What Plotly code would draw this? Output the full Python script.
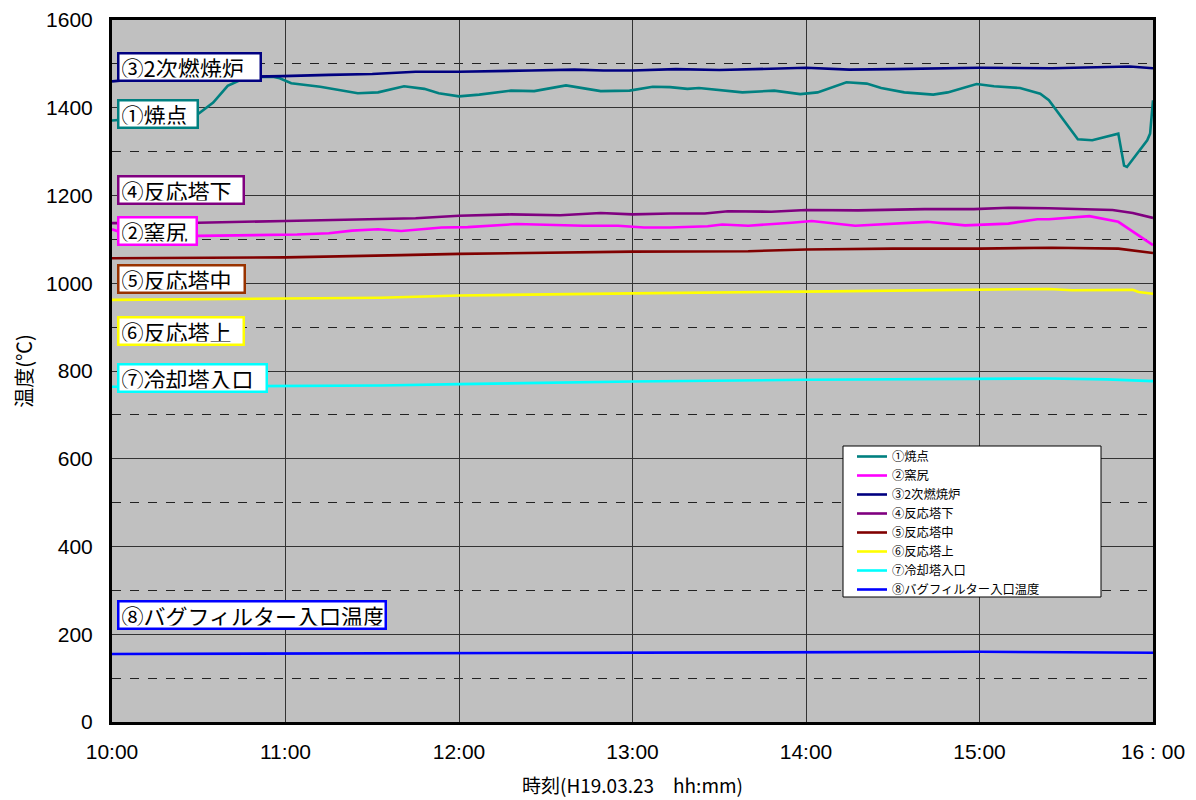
import plotly.graph_objects as go

DATE = "2007-03-23"

series_names = ["①焼点", "②窯尻", "③2次燃焼炉", "④反応塔下", "⑤反応塔中",
                "⑥反応塔上", "⑦冷却塔入口", "⑧バグフィルター入口温度"]
line_colors = ["#008080", "#FF00FF", "#000080", "#800080", "#800000",
               "#FFFF00", "#00FFFF", "#0000FF"]
label_border_colors = ["#008080", "#FF00FF", "#000080", "#800080", "#993300",
                       "#FFFF00", "#00FFFF", "#0000FF"]

# ① 焼点
t1 = ["10:00", "10:10", "10:20", "10:30", "10:35", "10:40", "10:44", "10:52", "10:56", "10:58",
      "11:02", "11:12", "11:25", "11:32", "11:41", "11:48", "11:53", "12:00", "12:07", "12:18",
      "12:26", "12:37", "12:49", "12:59", "13:07", "13:13", "13:19", "13:23", "13:38", "13:49",
      "13:58", "14:04", "14:14", "14:21", "14:26", "14:34", "14:44", "14:49", "14:59", "15:05",
      "15:14", "15:21", "15:24", "15:34", "15:39", "15:46", "15:48", "15:50", "15:51", "15:58",
      "15:59", "16:00"]
v1 = [1371, 1376, 1381, 1387, 1412, 1450, 1462, 1471, 1470, 1467,
      1456, 1448, 1433, 1435, 1449, 1443, 1433, 1426, 1430, 1439,
      1438, 1451, 1438, 1439, 1448, 1447, 1443, 1445, 1435, 1439,
      1431, 1435, 1458, 1455, 1445, 1435, 1430, 1435, 1454, 1449,
      1445, 1432, 1417, 1328, 1326, 1339, 1341, 1268, 1265, 1326,
      1341, 1417]

# ② 窯尻
t2 = ["10:00", "10:05", "10:30", "10:54", "11:04", "11:15", "11:23", "11:32", "11:40", "11:54",
      "12:03", "12:20", "12:33", "12:43", "12:55", "13:04", "13:13", "13:26", "13:31", "13:40",
      "13:55", "14:02", "14:17", "14:42", "14:55", "15:10", "15:20", "15:24", "15:38", "15:48",
      "16:00"]
v2 = [1123, 1112, 1108, 1110, 1111, 1114, 1120, 1123, 1119, 1127,
      1128, 1135, 1132, 1131, 1131, 1127, 1127, 1130, 1134, 1131,
      1138, 1142, 1131, 1140, 1132, 1136, 1146, 1146, 1153, 1140,
      1087]

# ③ 2次燃焼炉
t3 = ["10:00", "10:10", "10:30", "10:52", "10:59", "11:15", "11:30", "11:45", "12:00", "12:25",
      "12:40", "12:50", "13:00", "13:15", "13:30", "14:00", "14:15", "14:30", "15:00", "15:25",
      "15:45", "15:52", "16:00"]
v3 = [1460, 1466, 1469, 1471, 1472, 1475, 1477, 1482, 1482, 1485,
      1487, 1485, 1485, 1488, 1486, 1491, 1487, 1488, 1491, 1490,
      1494, 1494, 1490]

# ④ 反応塔下
t4 = ["10:00", "10:30", "11:00", "11:30", "11:45", "12:00", "12:18", "12:35", "12:49", "13:00",
      "13:13", "13:25", "13:33", "13:48", "14:00", "14:18", "14:41", "14:58", "15:10", "15:24",
      "15:30", "15:46", "15:53", "16:00"]
v4 = [1137, 1138, 1142, 1146, 1148, 1154, 1157, 1155, 1160, 1157,
      1159, 1159, 1164, 1163, 1167, 1166, 1169, 1169, 1172, 1171,
      1170, 1167, 1160, 1149]

# ⑤ 反応塔中
t5 = ["10:00", "11:00", "11:40", "12:00", "13:00", "13:40", "14:00", "14:30", "15:00", "15:25",
      "15:48", "16:00"]
v5 = [1057, 1059, 1064, 1067, 1072, 1073, 1077, 1079, 1079, 1081, 1079, 1069]

# ⑥ 反応塔上
t6 = ["10:00", "11:00", "11:33", "12:00", "12:42", "13:00", "14:00", "14:43", "15:00", "15:24",
      "15:32", "15:53", "15:55", "16:00"]
v6 = [962, 965, 967, 972, 976, 977, 981, 984, 984, 987, 984, 985, 980, 976]

# ⑦ 冷却塔入口
t7 = ["10:00", "11:00", "11:33", "12:00", "13:00", "14:00", "15:00", "15:24", "15:44", "16:00"]
v7 = [764, 765, 767, 770, 776, 780, 783, 783, 781, 777]

# ⑧ バグフィルター入口温度
t8 = ["10:00", "11:00", "11:40", "12:00", "13:00", "14:00", "15:00", "15:30", "16:00"]
v8 = [155, 156, 157, 157, 158, 160, 160, 159, 158]

times = [t1, t2, t3, t4, t5, t6, t7, t8]
values = [v1, v2, v3, v4, v5, v6, v7, v8]

hour_ticks = ["10:00", "11:00", "12:00", "13:00", "14:00", "15:00", "16:00"]
hour_text = ["10:00", "11:00", "12:00", "13:00", "14:00", "15:00", "16 : 00"]

# label boxes at left: (series index, y centre in °C, box width px)
label_order = [2, 0, 3, 1, 4, 5, 6, 7]
label_y = [1494, 1386, 1212, 1120, 1009, 892, 784, 244]
label_w = [145, 82, 128, 81, 129, 128, 151, 270]
label_h = 30

CJK = "Noto Sans CJK JP"
SANS = "Liberation Sans, Arial"

fig = go.Figure()
for name, col, t, v in zip(series_names, line_colors, times, values):
    fig.add_trace(go.Scatter(
        x=[f"{DATE} {s}" for s in t], y=v, mode="lines", name=name,
        line=dict(color=col, width=2.6),
    ))

# the page body adds an 8px offset; positions below are in page pixels
OFF = 8
W, H = 1196 - OFF, 800 - OFF
ml, mr, mt, mb = 112 - OFF, 43, 20 - OFF, 78
pw, ph = W - ml - mr, H - mt - mb

def px_x(p):
    return (p - OFF - ml) / pw

def px_y(p):
    return (H - mb - (p - OFF)) / ph

annotations = []
bw, bp = 2.5, 2
for idx, yv, w in zip(label_order, label_y, label_w):
    annotations.append(dict(
        xref="paper", yref="y", x=px_x(117), y=yv, xanchor="left", yanchor="middle",
        text=series_names[idx], showarrow=False, align="left",
        font=dict(family=CJK, size=22, color="black"),
        bgcolor="white", bordercolor=label_border_colors[idx], borderwidth=bw, borderpad=bp,
        width=w - 2 * (bw + bp), height=label_h - 2 * (bw + bp),
    ))

shapes = [dict(
    type="rect", xref="paper", yref="paper",
    x0=px_x(843), x1=px_x(1101), y0=px_y(597), y1=px_y(446),
    fillcolor="white", line=dict(color="black", width=1), layer="above",
)]

fig.update_layout(
    width=W, height=H,
    margin=dict(l=ml, r=mr, t=mt, b=mb, autoexpand=False),
    paper_bgcolor="white", plot_bgcolor="#C0C0C0",
    showlegend=True,
    legend=dict(
        x=px_x(852), y=px_y(442), xanchor="left", yanchor="top",
        bgcolor="rgba(0,0,0,0)", borderwidth=0,
        font=dict(family=CJK, size=12.3, color="black"),
        tracegroupgap=0,
    ),
    annotations=annotations,
    shapes=shapes,
    xaxis=dict(
        type="date",
        range=[f"{DATE} 10:00", f"{DATE} 16:00"],
        tickvals=[f"{DATE} {s}" for s in hour_ticks], ticktext=hour_text,
        showgrid=True, gridcolor="#333333", gridwidth=1,
        showline=True, linecolor="black", linewidth=3, mirror=True,
        ticks="", ticklabelstandoff=9,
        tickfont=dict(family=SANS, size=21, color="black"),
        title=dict(text="時刻(H19.03.23　hh:mm)", font=dict(family=CJK, size=19, color="black"),
                   standoff=18),
        zeroline=False,
    ),
    yaxis=dict(
        range=[0, 1600], dtick=200, tick0=0,
        showgrid=True, gridcolor="#333333", gridwidth=1,
        minor=dict(dtick=100, showgrid=True, griddash="dash", gridcolor="#222222", gridwidth=1),
        showline=True, linecolor="black", linewidth=3, mirror=True,
        ticks="", ticklabelstandoff=12,
        tickfont=dict(family=SANS, size=21, color="black"),
        title=dict(text="温度(℃)", font=dict(family=CJK, size=20, color="black"), standoff=9),
        zeroline=False,
    ),
)

fig.write_html("out.html")
